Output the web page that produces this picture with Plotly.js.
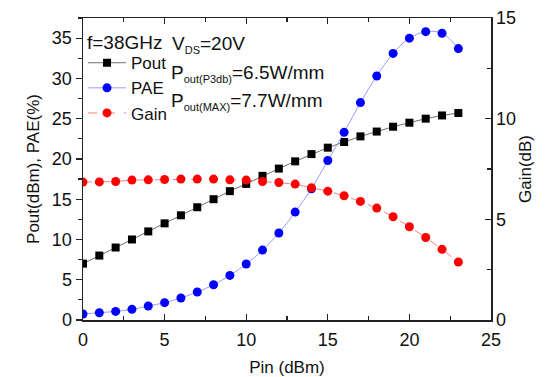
<!DOCTYPE html>
<html>
<head>
<meta charset="utf-8">
<script src="https://cdn.plot.ly/plotly-3.0.1.min.js"></script>
<style>html,body{margin:0;padding:0;background:#fff;}#chart{width:550px;height:377px;}</style>
</head>
<body>
<div id="chart"></div>
<script>
const pin = [0,1,2,3,4,5,6,7,8,9,10,11,12,13,14,15,16,17,18,19,20,21,22,23];
const pout = [7.0,8.0,9.0,10.0,11.0,12.0,13.0,14.0,15.0,16.0,16.9,17.9,18.8,19.7,20.6,21.4,22.1,22.8,23.4,24.0,24.5,25.0,25.4,25.7];
const pae = [0.74,0.9,1.07,1.32,1.74,2.15,2.73,3.47,4.38,5.54,6.95,8.68,10.8,13.4,16.3,19.8,23.3,27.0,30.3,33.1,35.0,35.8,35.6,33.7];
const gain = [6.85,6.86,6.88,6.95,6.96,6.98,7.0,7.0,7.0,6.96,6.95,6.88,6.83,6.75,6.57,6.40,6.17,5.89,5.56,5.13,4.63,4.10,3.51,2.88];
const seriesNames = ["Pout","PAE","Gain"];

const FONT = "Liberation Sans, Arial, sans-serif";
const traces = [
  {x: pin, y: pout, name: seriesNames[0], type: "scatter", mode: "lines+markers",
   line: {color: "#707070", width: 1}, marker: {symbol: "square", size: 8, color: "#000000"}},
  {x: pin, y: pae, name: seriesNames[1], type: "scatter", mode: "lines+markers",
   line: {color: "#9a9aff", width: 1, shape: "spline"}, marker: {symbol: "circle", size: 9, color: "#0000ff"}},
  {x: pin, y: gain, name: seriesNames[2], type: "scatter", mode: "lines+markers", yaxis: "y2",
   line: {color: "#ff8080", width: 1, dash: "dash"}, marker: {symbol: "circle", size: 9, color: "#ff0000"}}
];

const axisCommon = {
  showline: true, linecolor: "#222", linewidth: 1.5, showgrid: false, zeroline: false,
  ticklen: 6, tickwidth: 1.2, tickcolor: "#222",
  tickfont: {family: FONT, size: 18, color: "#111"}
};

const sub = (t) => "<sub><span style=\"font-size:11px\">" + t + "</span></sub>";

const layout = {
  width: 550, height: 377,
  margin: {l: 83, r: 59, t: 18, b: 57},
  paper_bgcolor: "#fff", plot_bgcolor: "#fff",
  font: {family: FONT, size: 17, color: "#111"},
  showlegend: true,
  legend: {x: 0.0, xanchor: "left", y: 0.91, yanchor: "top", bgcolor: "rgba(0,0,0,0)",
           font: {family: FONT, size: 17, color: "#111"}, tracegroupgap: 0, itemwidth: 38},
  xaxis: Object.assign({}, axisCommon, {
    range: [0, 25], dtick: 5, tick0: 0, ticks: "inside", mirror: "ticks", ticklabelstandoff: 3,
    minor: {dtick: 2.5, ticks: "inside", ticklen: 4, tickcolor: "#222"},
    title: {text: "Pin (dBm)", font: {family: FONT, size: 17}, standoff: 12}
  }),
  yaxis: Object.assign({}, axisCommon, {
    range: [0, 37.5], dtick: 5, tick0: 0, ticks: "outside",
    minor: {dtick: 2.5, ticks: "outside", ticklen: 4, tickcolor: "#222"},
    title: {text: "Pout(dBm), PAE(%)", font: {family: FONT, size: 17}, standoff: 8}
  }),
  yaxis2: Object.assign({}, axisCommon, {
    overlaying: "y", side: "right", range: [0, 15], dtick: 5, tick0: 0, ticks: "inside",
    minor: {dtick: 2.5, ticks: "inside", ticklen: 4, tickcolor: "#222"},
    title: {text: "Gain(dB)", font: {family: FONT, size: 17}, standoff: 4}
  }),
  annotations: [
    {xref: "paper", yref: "paper", x: 0.005, y: 0.918, xanchor: "left", yanchor: "middle", showarrow: false,
     text: "f=38GHz", font: {family: FONT, size: 19, color: "#111"}},
    {xref: "paper", yref: "paper", x: 0.214, y: 0.912, xanchor: "left", yanchor: "middle", showarrow: false,
     text: "V" + sub("DS") + "=20V", font: {family: FONT, size: 19, color: "#111"}},
    {xref: "paper", yref: "paper", x: 0.212, y: 0.815, xanchor: "left", yanchor: "middle", showarrow: false,
     text: "P" + sub("out(P3db)") + "=6.5W/mm", font: {family: FONT, size: 19, color: "#111"}},
    {xref: "paper", yref: "paper", x: 0.212, y: 0.722, xanchor: "left", yanchor: "middle", showarrow: false,
     text: "P" + sub("out(MAX)") + "=7.7W/mm", font: {family: FONT, size: 19, color: "#111"}}
  ]
};

Plotly.newPlot("chart", traces, layout, {displayModeBar: false, staticPlot: true});
</script>
</body>
</html>
